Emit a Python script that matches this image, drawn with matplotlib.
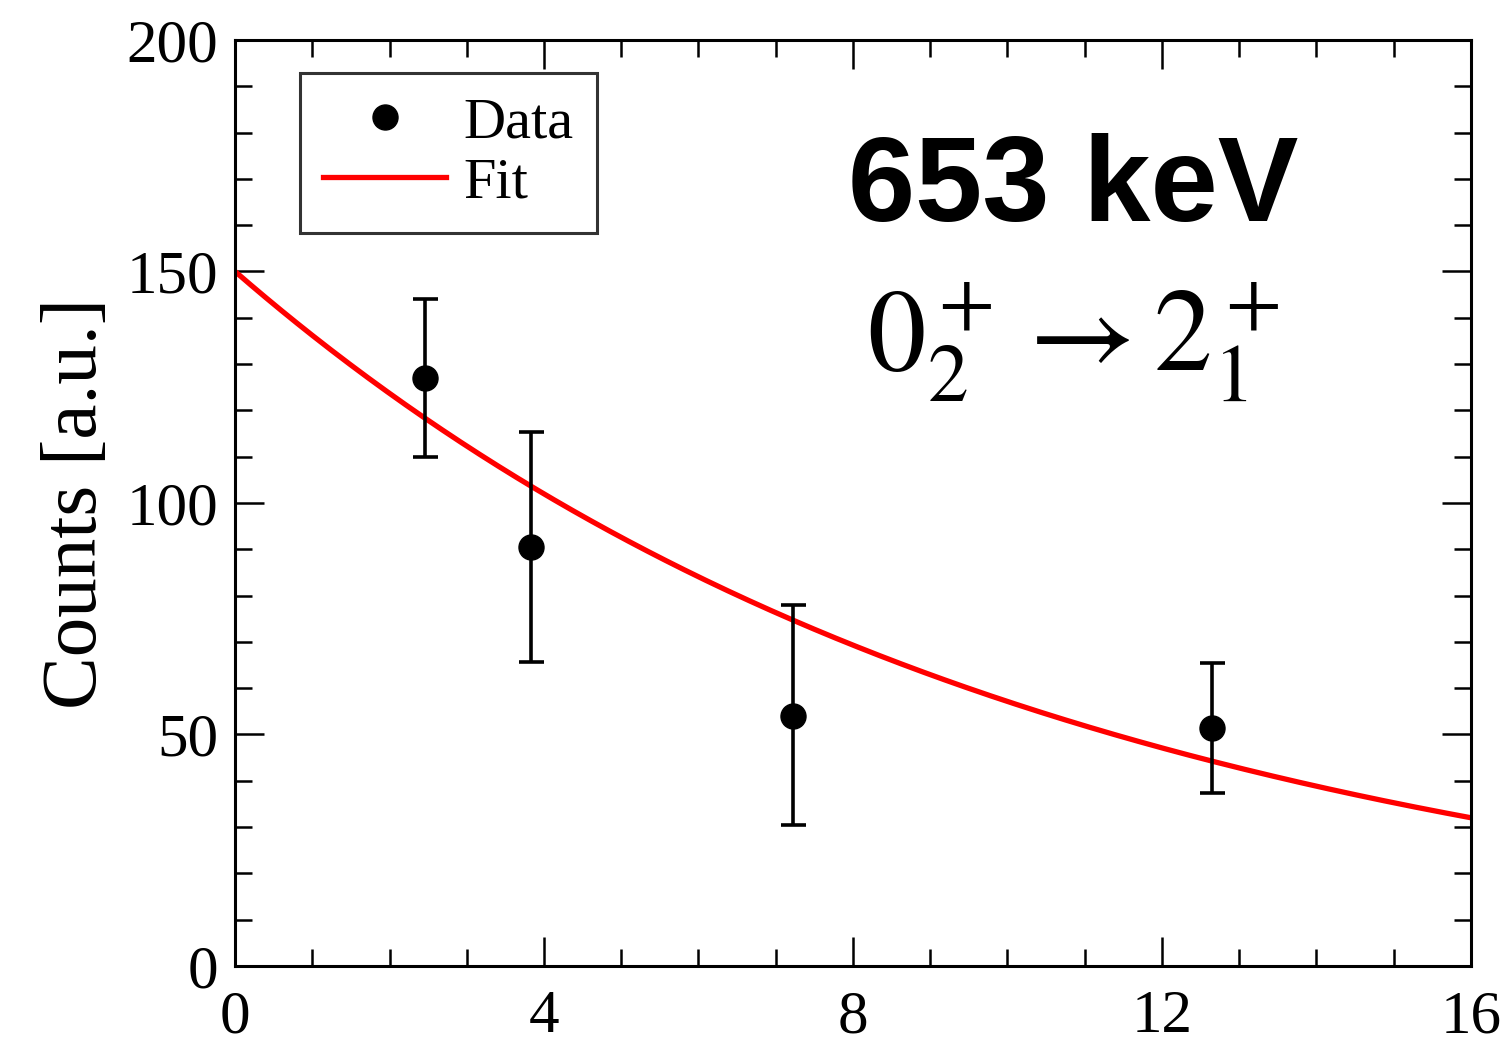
import numpy as np
import matplotlib
matplotlib.use('Agg')
import matplotlib.pyplot as plt
from matplotlib.ticker import MultipleLocator

# data
x_data = [2.46, 3.83, 7.22, 12.65]
y_data = [127.0, 90.5, 54.0, 51.4]
y_err_low = [17.0, 24.8, 23.5, 14.0]
y_err_high = [17.0, 24.8, 24.0, 14.0]

# exponential fit parameters
fit_amp = 150.0
fit_tau = 10.36

plt.rcParams['font.family'] = ['Liberation Serif', 'DejaVu Serif']
plt.rcParams['mathtext.fontset'] = 'stix'

fig = plt.figure(figsize=(15.07, 10.46), dpi=100)
ax = fig.add_axes([0.156, 0.0765, 0.820, 0.8853])

x_fit = np.linspace(0, 16, 400)
y_fit = fit_amp * np.exp(-x_fit / fit_tau)
ax.plot(x_fit, y_fit, color='red', lw=3.8, label='Fit', zorder=2)

ax.errorbar(x_data, y_data, yerr=[y_err_low, y_err_high], fmt='none', ecolor='black',
            elinewidth=2.6, capsize=9, capthick=2.6, zorder=3)
ax.plot(x_data, y_data, 'o', color='black', ms=18, label='Data', zorder=4)

ax.set_xlim(0, 16)
ax.set_ylim(0, 200)
ax.xaxis.set_major_locator(MultipleLocator(4))
ax.xaxis.set_minor_locator(MultipleLocator(1))
ax.yaxis.set_major_locator(MultipleLocator(50))
ax.yaxis.set_minor_locator(MultipleLocator(10))
ax.tick_params(which='both', direction='in', top=True, right=True, width=1.8, labelsize=44)
ax.tick_params(which='major', length=21, pad=12)
ax.tick_params(axis='x', which='major', pad=17)
ax.tick_params(which='minor', length=12)
for s in ax.spines.values():
    s.set_linewidth(2.2)

ax.set_ylabel('Counts [a.u.]', fontsize=57, labelpad=10)

handles, labels = ax.get_legend_handles_labels()
leg = ax.legend(handles[::-1], labels[::-1], loc='upper left', bbox_to_anchor=(0.0526, 0.964),
                borderaxespad=0, fontsize=42, fancybox=False, frameon=True, numpoints=1,
                handlelength=2.1, handletextpad=0.3, borderpad=0.4, labelspacing=0.12)
leg.get_frame().set_edgecolor('black')
leg.get_frame().set_linewidth(2.2)

ax.text(0.678, 0.838, '653 keV', transform=ax.transAxes, ha='center', va='center',
        fontsize=87, fontweight='bold', family=['Liberation Sans', 'DejaVu Sans'])
ax.text(0.678, 0.674, r'$0_2^+ \rightarrow 2_1^+$', transform=ax.transAxes,
        ha='center', va='center', fontsize=84)

fig.savefig('out.png', dpi=100)
